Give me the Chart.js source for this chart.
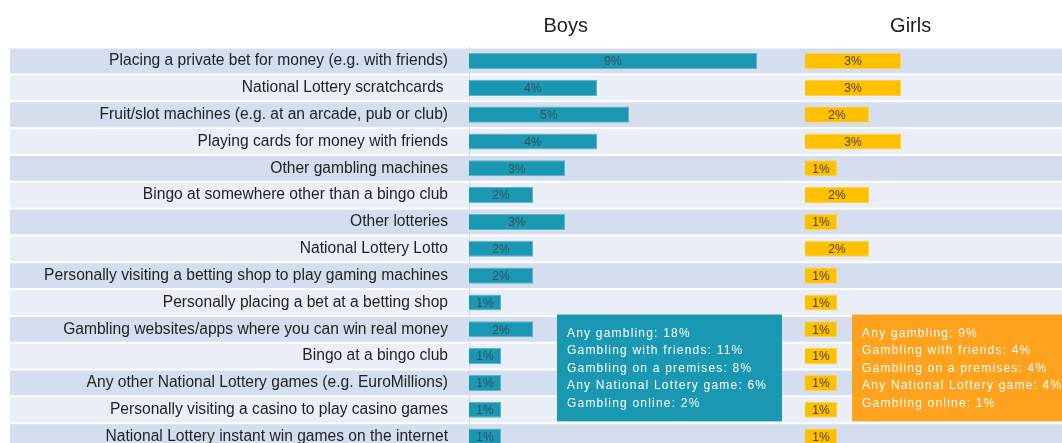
<!DOCTYPE html>
<html>
<head>
<meta charset="utf-8">
<script src="https://cdn.jsdelivr.net/npm/chart.js@4"></script>
<style>
  html, body { margin: 0; padding: 0; background: #fff; overflow: hidden; }
  canvas { display: block; }
</style>
</head>
<body>
<canvas id="gamblingChart" width="1062" height="452"></canvas>
<script>
// activities, top to bottom
const activities = [
    'Placing a private bet for money (e.g. with friends)',
    'National Lottery scratchcards ',
    'Fruit/slot machines (e.g. at an arcade, pub or club)',
    'Playing cards for money with friends',
    'Other gambling machines',
    'Bingo at somewhere other than a bingo club',
    'Other lotteries',
    'National Lottery Lotto',
    'Personally visiting a betting shop to play gaming machines',
    'Personally placing a bet at a betting shop',
    'Gambling websites/apps where you can win real money',
    'Bingo at a bingo club',
    'Any other National Lottery games (e.g. EuroMillions)',
    'Personally visiting a casino to play casino games',
    'National Lottery instant win games on the internet'
];

const boys = [9, 4, 5, 4, 3, 2, 3, 2, 2, 1, 2, 1, 1, 1, 1];
const girls = [3, 3, 2, 3, 1, 2, 1, 2, 1, 1, 1, 1, 1, 1, 1];

const boysSummary = [
    'Any gambling: 18%',
    'Gambling with friends: 11%',
    'Gambling on a premises: 8%',
    'Any National Lottery game: 6%',
    'Gambling online: 2%'
];
const girlsSummary = [
    'Any gambling: 9%',
    'Gambling with friends: 4%',
    'Gambling on a premises: 4%',
    'Any National Lottery game: 4%',
    'Gambling online: 1%'
];

const BOYS_COLOR = '#1A97B3';
const GIRLS_COLOR = '#FFC000';

// alternating row bands behind everything
const bandsPlugin = {
    id: 'bands',
    beforeDraw(chart) {
        const ctx = chart.ctx;
        const y = chart.scales.y;
        const pitch = y.getPixelForValue(1) - y.getPixelForValue(0);
        ctx.save();
        activities.forEach((a, i) => {
            const c = y.getPixelForValue(i);
            ctx.fillStyle = i % 2 === 0 ? '#D4DEEE' : '#E9EEF7';
            ctx.fillRect(10, c - pitch / 2 + 1, chart.width - 10, pitch - 2);
        });
        ctx.restore();
    }
};

// % labels inside bars, titles and the summary boxes
const extrasPlugin = {
    id: 'extras',
    afterDatasetsDraw(chart) {
        const ctx = chart.ctx;
        ctx.save();
        ctx.font = '12px "Liberation Sans", Arial, sans-serif';
        ctx.textAlign = 'center';
        ctx.textBaseline = 'middle';
        chart.data.datasets.forEach((ds, di) => {
            const meta = chart.getDatasetMeta(di);
            meta.data.forEach((bar, i) => {
                ctx.fillStyle = di === 0 ? '#35525C' : '#4A4030';
                ctx.fillText(ds.data[i] + '%', (bar.x + bar.base) / 2, bar.y + 1);
            });
        });

        const xb = chart.scales.x;
        const xg = chart.scales.x2;
        const y = chart.scales.y;

        ctx.fillStyle = '#222';
        ctx.font = '20px "Liberation Sans", Arial, sans-serif';
        ctx.fillText('Boys', xb.getPixelForValue(3.02), 26);
        ctx.fillText('Girls', xg.getPixelForValue(3.3), 26);

        const drawBox = (scale, x0, x1, color, lines) => {
            const left = scale.getPixelForValue(x0);
            const right = scale.getPixelForValue(x1);
            const top = y.getPixelForValue(9.45);
            const bottom = y.getPixelForValue(13.43);
            ctx.fillStyle = color;
            ctx.fillRect(left, top, right - left, bottom - top);
            ctx.fillStyle = '#fff';
            ctx.font = '12px "Liberation Sans", Arial, sans-serif';
            ctx.letterSpacing = '1.2px';
            ctx.textAlign = 'left';
            lines.forEach((t, k) => {
                ctx.fillText(t, left + 10, top + 19 + k * 17.5);
            });
            ctx.letterSpacing = '0px';
        };
        drawBox(xb, 2.75, 9.78, BOYS_COLOR, boysSummary);
        drawBox(xg, 1.47, 9, '#FFA21D', girlsSummary);
        ctx.restore();
    }
};

const ctx = document.getElementById('gamblingChart').getContext('2d');

const chart = new Chart(ctx, {
    type: 'bar',
    data: {
        labels: activities,
        datasets: [
            {
                label: 'Boys',
                data: boys,
                xAxisID: 'x',
                backgroundColor: BOYS_COLOR,
                borderColor: '#5FB4C8',
                borderWidth: 1,
                grouped: false,
                barPercentage: 0.6,
                categoryPercentage: 1
            },
            {
                label: 'Girls',
                data: girls,
                xAxisID: 'x2',
                backgroundColor: GIRLS_COLOR,
                borderColor: '#FFD24D',
                borderWidth: 1,
                grouped: false,
                barPercentage: 0.6,
                categoryPercentage: 1
            }
        ]
    },
    options: {
        indexAxis: 'y',
        responsive: false,
        animation: false,
        layout: { padding: { top: 47.6, bottom: 2, left: 0, right: 0 } },
        plugins: {
            legend: { display: false },
            tooltip: { enabled: false }
        },
        scales: {
            x: {
                position: 'bottom',
                stack: 'sides',
                stackWeight: 10.5,
                min: 0,
                max: 10.5,
                display: false
            },
            x2: {
                position: 'bottom',
                stack: 'sides',
                stackWeight: 8.03,
                min: 0,
                max: 8.03,
                display: false
            },
            y: {
                afterFit(scale) {
                    scale.width = 469;
                    // label padding shouldn't eat into the plot height
                    scale.paddingTop = 0;
                    scale.paddingBottom = 0;
                },
                grid: { display: false, drawTicks: false },
                border: { display: true, color: '#D6D9DE', width: 1 },
                ticks: {
                    padding: 21,
                    color: '#1F1F1F',
                    font: { family: '"Liberation Sans", Arial, sans-serif', size: 15.6 }
                }
            }
        }
    },
    plugins: [bandsPlugin, extrasPlugin]
});
</script>
</body>
</html>
